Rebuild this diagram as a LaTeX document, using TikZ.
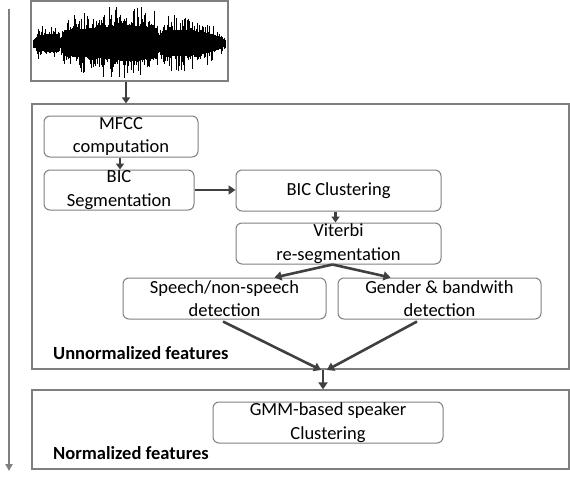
\documentclass[tikz,border=0pt]{standalone}
\usepackage{fontspec}
\setmainfont{Carlito}
\usetikzlibrary{arrows.meta,calc}
\definecolor{boxgray}{HTML}{7F7F7F}
\definecolor{arrgray}{HTML}{404040}
\tikzset{
  rbox/.style={draw=boxgray, line width=1pt, rounded corners=6pt, align=center,
    inner sep=0pt, font=\fontsize{18.5}{23.5}\selectfont},
  frame/.style={draw=boxgray, line width=1.2pt, inner sep=0pt},
  arr/.style={draw=arrgray, line width=2.6pt, -{Triangle[length=7pt,width=9pt]}},
  thinarr/.style={draw=arrgray, line width=2.2pt, -{Triangle[length=6pt,width=8pt]}},
  lbl/.style={font=\fontsize{18.5}{20}\selectfont\bfseries, anchor=west, inner sep=0pt},
}
\begin{document}
\begin{tikzpicture}[x=1pt,y=-1pt]
\useasboundingbox (0,0) rectangle (570,479);
% frames
\node[frame, minimum width=197pt, minimum height=80pt] (wave) at (129.5,41) {};
\node[frame, minimum width=537pt, minimum height=265pt] (box1) at (300.5,236.5) {};
\node[frame, minimum width=537pt, minimum height=79pt] (box2) at (300.5,429.5) {};
% waveform
\begin{scope}
\clip (31,1) rectangle (228,81);
\pgfmathsetseed{11}
\foreach \xa/\xb/\ea/\eb in {33/38/5/18, 38/58/18/20, 58/61/20/8, 61/64/8/28, 64/95/28/33, 95/125/33/40, 125/140/40/38, 140/157/38/32, 157/160/32/14, 160/163/14/30, 163/185/30/28, 185/205/28/24, 205/218/24/15, 218/226/15/6} {
  \pgfmathsetmacro\xs{\xa+0.8}
  \foreach \x in {\xa,\xs,...,\xb} {
    \pgfmathsetmacro\e{\ea+(\eb-\ea)*(\x-\xa)/(\xb-\xa)}
    \pgfmathsetmacro\t{43-\e*(0.45+0.55*rnd^3)}
    \pgfmathsetmacro\b{43+\e*(0.45+0.55*rnd^3)}
    \draw[line width=1pt] (\x,\t) -- (\x,\b);
  }
}
\end{scope}
% process boxes
\node[rbox, minimum width=154pt, minimum height=41pt] (mfcc) at (121,136.5) {MFCC\\computation};
\node[rbox, minimum width=150pt, minimum height=40pt] (bicseg) at (119,190) {BIC\\Segmentation};
\node[rbox, minimum width=205pt, minimum height=41pt] (biccl) at (338.5,190.5) {BIC Clustering};
\node[rbox, minimum width=205pt, minimum height=41pt] (vit) at (338.5,243.5) {Viterbi\\re-segmentation};
\node[rbox, minimum width=203pt, minimum height=41pt] (speech) at (224.5,298.5) {Speech/non-speech\\detection};
\node[rbox, minimum width=203pt, minimum height=41pt] (gender) at (439.5,298.5) {Gender \& bandwith\\detection};
\node[rbox, minimum width=230pt, minimum height=41pt] (gmm) at (328,422.5) {GMM-based speaker\\Clustering};
% labels
\node[lbl] (unnorm) at (53,353) {Unnormalized features};
\node[lbl] (norm) at (53,453) {Normalized features};
% timeline
\coordinate (tla) at (9,9);
\coordinate (tlb) at (9,471);
\draw[draw=boxgray, line width=1.8pt, -{Triangle[length=7pt,width=7pt]}] (tla) -- (tlb);
% connectors
\draw[thinarr] ([xshift=-3.5pt]wave.south) -- ([xshift=-3.5pt]wave.south |- box1.north);
\draw[thinarr] ([xshift=-1pt]mfcc.south) -- ([xshift=-1pt]mfcc.south |- bicseg.north);
\draw[arr] (bicseg.east) -- (bicseg.east -| biccl.west);
\draw[thinarr] ([xshift=-3pt]biccl.south) -- ([xshift=-3pt]biccl.south |- vit.north);
\coordinate (vs) at ([xshift=-6pt]vit.south);
\draw[arr] (vs) -- ([xshift=50pt]speech.north);
\draw[arr] (vs) -- ([xshift=-49pt]gender.north);
\coordinate (m) at (323,370);
\draw[arr] ([xshift=-1.5pt,yshift=-2pt]speech.south) -- ([xshift=-2pt]m);
\draw[arr] ([xshift=-22.5pt,yshift=-2pt]gender.south) -- ([xshift=4pt]m);
\draw[arr] (m) -- (m |- box2.north);
\end{tikzpicture}
\end{document}
